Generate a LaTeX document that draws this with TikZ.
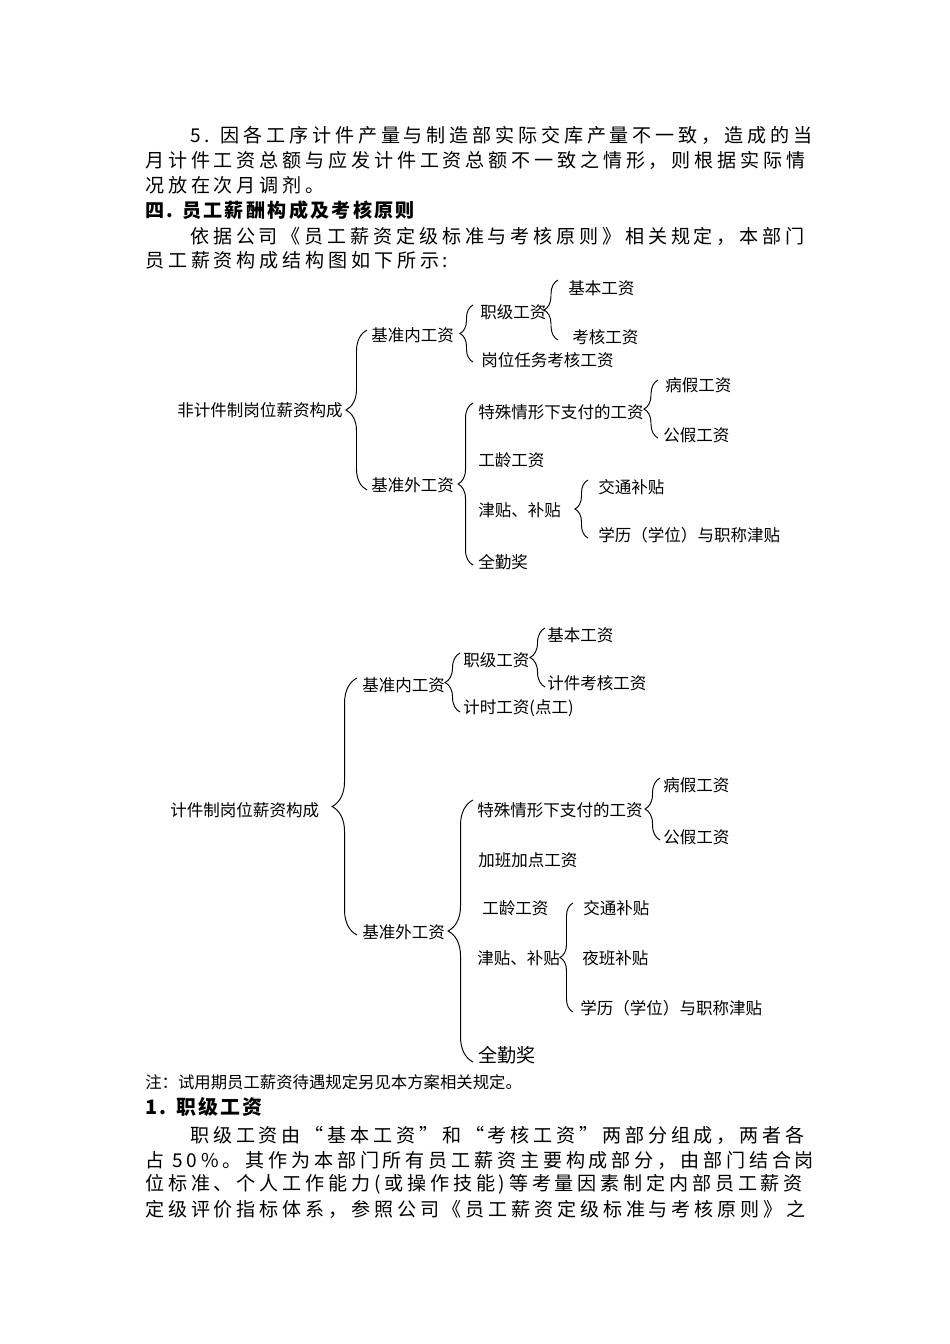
\documentclass[tikz,border=0pt]{standalone}
\usepackage{fontspec}
\setmainfont{Noto Sans CJK SC}
\newfontfamily\cjk{Noto Sans CJK SC}
\newfontfamily\bodyfont{Noto Sans CJK SC}[LetterSpace=20]
\newfontfamily\headfont{Noto Sans CJK SC}[LetterSpace=12]
\usetikzlibrary{decorations.pathreplacing}

\tikzset{
  brc/.style={decorate, decoration={brace, amplitude=#1}, line width=0.6pt},
  item/.style={anchor=west, inner sep=0pt, font={\cjk\fontsize{10.4}{12}\selectfont}},
  body/.style={anchor=west, inner sep=0pt, font={\bodyfont\fontsize{12}{14}\selectfont}},
  head/.style={anchor=west, inner sep=0pt, font={\headfont\bfseries\fontsize{12}{14}\selectfont}}
}

\begin{document}
\begin{tikzpicture}[x=0.022104cm, y=-0.022104cm]
\useasboundingbox (0,0) rectangle (950,1344);
\fill[white] (0,0) rectangle (950,1344);

% running text above and below the two charts
\foreach \x/\y/\t [count=\i] in {
  190/135/{5. 因各工序计件产量与制造部实际交库产量不一致，造成的当},
  145/160/{月计件工资总额与应发计件工资总额不一致之情形，则根据实际情},
  145/185/{况放在次月调剂。},
  190/236/{依据公司《员工薪资定级标准与考核原则》相关规定，本部门},
  145/260/{员工薪资构成结构图如下所示:},
  190/1135/{职级工资由“基本工资”和“考核工资”两部分组成，两者各},
  145/1160/{占 50\%。其作为本部门所有员工薪资主要构成部分，由部门结合岗},
  145/1184/{位标准、个人工作能力(或操作技能)等考量因素制定内部员工薪资},
  145/1209/{定级评价指标体系，参照公司《员工薪资定级标准与考核原则》之}}
  {
    \path (\x,\y) node[body] (para\i) {\t};
  }
\path (145,210) node[head] (head1) {四. 员工薪酬构成及考核原则};
\path (145,1107) node[head, font={\headfont\bfseries\fontsize{12.5}{14}\selectfont}] (head2) {1. 职级工资};
\path (145,1082) node[item, font={\cjk\fontsize{10.3}{12}\selectfont}] (note) {注：试用期员工薪资待遇规定另见本方案相关规定。};

%% chart 1: non piece-rate posts
\path
(177,410) node[item] (root1) {非计件制岗位薪资构成}
(371,335) node[item] (in1) {基准内工资}
(371,485) node[item] (out1) {基准外工资}
(480,312) node[item] (grade1) {职级工资}
(481,360) node[item] (task1) {岗位任务考核工资}
(568,288) node[item] (basic1) {基本工资}
(572,337) node[item] (check1) {考核工资}
(478,412) node[item] (spec1) {特殊情形下支付的工资}
(665,385) node[item] (sick1) {病假工资}
(663,435) node[item] (duty1) {公假工资}
(478,460) node[item] (seni1) {工龄工资}
(478,510) node[item] (allow1) {津贴、补贴}
(598,487) node[item] (trans1) {交通补贴}
(598,535) node[item] (degr1) {学历（学位）与职称津贴}
(478,562) node[item] (full1) {全勤奖};

\draw[brc=13.2pt] ([shift={(-4,5)}]out1.west) -- ([shift={(-4,-5)}]in1.west);
\draw[brc=8.2pt] ([shift={(-8,2)}]task1.west) -- ([shift={(-7,-7)}]grade1.west);
\draw[brc=8.8pt] ([shift={(-14,3)}]check1.west) -- ([shift={(-10,-8)}]basic1.west);
\draw[brc=9.4pt] ([shift={(-5,3)}]full1.west) -- ([shift={(-5,-9)}]spec1.west);
\draw[brc=8.8pt] ([shift={(-5,3)}]duty1.west) -- ([shift={(-7,-5)}]sick1.west);
\draw[brc=8.2pt] ([shift={(-10,3)}]degr1.west) -- ([shift={(-10,-7)}]trans1.west);

%% chart 2: piece-rate posts
\path
(170,810) node[item] (root2) {计件制岗位薪资构成}
(362,685) node[item] (in2) {基准内工资}
(362,932) node[item] (out2) {基准外工资}
(463,660) node[item] (grade2) {职级工资}
(463,708) node[item] (hour2) {计时工资(点工)}
(547,635) node[item] (basic2) {基本工资}
(547,683) node[item] (piece2) {计件考核工资}
(477,810) node[item] (spec2) {特殊情形下支付的工资}
(663,785) node[item] (sick2) {病假工资}
(663,837) node[item] (duty2) {公假工资}
(478,860) node[item] (over2) {加班加点工资}
(482,908) node[item] (seni2) {工龄工资}
(477,958) node[item] (allow2) {津贴、补贴}
(583,908) node[item] (trans2) {交通补贴}
(582,958) node[item] (night2) {夜班补贴}
(580,1008) node[item] (degr2) {学历（学位）与职称津贴}
(478,1055) node[item, font={\cjk\fontsize{12}{14}\selectfont}] (full2) {全勤奖};

\draw[brc=15.7pt] ([shift={(-5,3)}]out2.west) -- ([shift={(-5,-7)}]in2.west);
\draw[brc=9.4pt] ([shift={(-3,4)}]hour2.west) -- ([shift={(-3,-7)}]grade2.west);
\draw[brc=9.4pt] ([shift={(-2,4)}]piece2.west) -- ([shift={(-2,-7)}]basic2.west);
\draw[brc=15.7pt] ([shift={(-5,7)}]full2.west) -- ([shift={(-4,-10)}]spec2.west);
\draw[brc=9.4pt] ([shift={(-3,3)}]duty2.west) -- ([shift={(-3,-7)}]sick2.west);
\draw[brc=8.2pt] ([shift={(-7,4)}]degr2.west) -- ([shift={(-10,-5)}]trans2.west);

\end{tikzpicture}
\end{document}
